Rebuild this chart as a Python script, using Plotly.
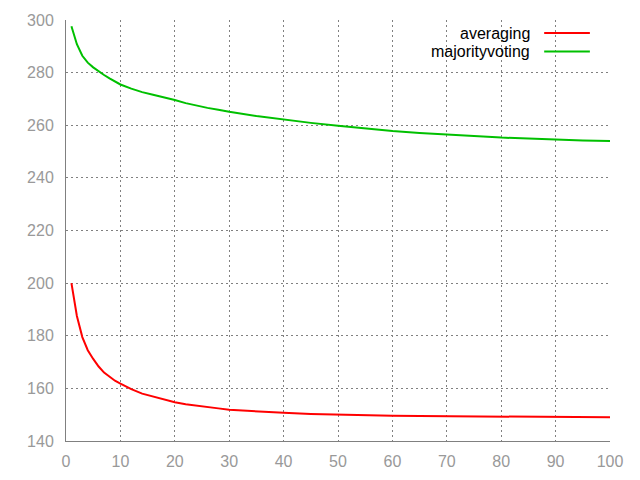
import plotly.graph_objects as go

# Data
x_avg = [1, 2, 3, 4, 5, 6, 7, 8, 9, 10, 12, 14, 16, 18, 20, 22, 24, 26, 28, 30,
         35, 40, 45, 50, 55, 60, 65, 70, 75, 80, 85, 90, 95, 100]
averaging = [200.0, 187.5, 179.5, 174.5, 171.2, 168.3, 166.0, 164.3, 162.9, 161.8,
             159.7, 158.0, 156.8, 155.7, 154.7, 154.0, 153.4, 152.9, 152.4, 151.9,
             151.2, 150.7, 150.3, 150.0, 149.8, 149.6, 149.5, 149.4, 149.3, 149.2,
             149.2, 149.1, 149.1, 149.0]

x_maj = [1, 2, 3, 4, 5, 6, 7, 8, 9, 10, 12, 14, 16, 18, 20, 22, 24, 26, 28, 30,
         35, 40, 45, 50, 55, 60, 65, 70, 75, 80, 85, 90, 95, 100]
majorityvoting = [297.6, 290.8, 286.4, 283.8, 282.0, 280.4, 279.1, 277.8, 276.6, 275.5,
                  273.9, 272.6, 271.6, 270.7, 269.6, 268.4, 267.4, 266.6, 265.9, 265.1,
                  263.5, 262.1, 260.9, 259.8, 258.7, 257.8, 257.1, 256.6, 255.9, 255.3,
                  254.9, 254.6, 254.2, 254.0]

series_names = ["averaging", "majorityvoting"]
series_colors = ["#ff0000", "#00c000"]

x_ticks = [0, 10, 20, 30, 40, 50, 60, 70, 80, 90, 100]
y_ticks = [140, 160, 180, 200, 220, 240, 260, 280, 300]

fig = go.Figure()
fig.add_trace(go.Scatter(x=x_avg, y=averaging, mode="lines", name=series_names[0],
                         line=dict(color=series_colors[0], width=2)))
fig.add_trace(go.Scatter(x=x_maj, y=majorityvoting, mode="lines", name=series_names[1],
                         line=dict(color=series_colors[1], width=2)))

axis_common = dict(
    showline=True, linecolor="#808080", linewidth=1,
    showgrid=True, gridcolor="#808080", gridwidth=1, griddash="2px,3px",
    zeroline=False, ticks="", mirror=False, automargin=False,
    tickfont=dict(family="Liberation Sans, Arial, sans-serif", size=16, color="#999999"),
)

fig.update_xaxes(range=[0, 100], tickvals=x_ticks, ticklabelstandoff=6, **axis_common)
fig.update_yaxes(range=[140, 300], tickvals=y_ticks, ticklabelstandoff=8, **axis_common)

# gnuplot-style legend: right-aligned text with line sample on its right
legend_y = [0.969, 0.925]
for name, color, yy in zip(series_names, series_colors, legend_y):
    fig.add_annotation(xref="paper", yref="paper", x=0.857, y=yy, text=name,
                       showarrow=False, xanchor="right", yanchor="middle",
                       font=dict(family="Liberation Sans, Arial, sans-serif", size=16, color="#000000"))
    fig.add_shape(type="line", xref="paper", yref="paper", x0=0.879, x1=0.963, y0=yy, y1=yy,
                  line=dict(color=color, width=2))

# the page body adds an 8px offset, so margins are compensated
fig.update_layout(
    width=640, height=480,
    margin=dict(l=58, r=38, t=12, b=47),
    plot_bgcolor="white", paper_bgcolor="white",
    showlegend=False,
)

fig.write_html("out.html")
